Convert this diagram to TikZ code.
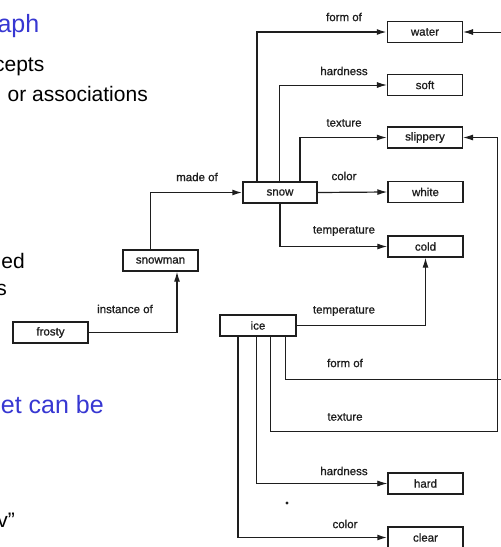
\documentclass[tikz,border=0pt]{standalone}
\usepackage{fontspec}
\setmainfont{Liberation Sans}
\newfontfamily\labfont[FakeBold=0.9]{Liberation Sans}
\usetikzlibrary{arrows.meta}
\definecolor{slideblue}{RGB}{55,55,210}
\definecolor{ink}{RGB}{30,30,30}
\tikzset{
  box/.style={draw=ink, line width=1.4pt, minimum width=75pt, minimum height=21pt, inner sep=0pt,
              font=\labfont\fontsize{11.5}{12}\selectfont, text=ink},
  lab/.style={font=\labfont\fontsize{11.5}{12}\selectfont, text=ink, inner sep=0pt},
  link/.style={draw=ink, line width=1.2pt, -{Latex[length=10pt,width=6pt]}},
  thinlink/.style={draw=ink, line width=0.8pt, -{Latex[length=10pt,width=6pt]}},
  heavylink/.style={draw=ink, line width=1.6pt, -{Latex[length=10pt,width=6pt]}},
  slide/.style={font=\fontsize{21}{24}\selectfont, inner sep=0pt, anchor=base east},
  slidetitle/.style={font=\fontsize{25}{28}\selectfont, text=slideblue, inner sep=0pt, anchor=base east}
}
\begin{document}
\begin{tikzpicture}[x=1pt,y=-1pt]
\useasboundingbox (0,0) rectangle (501,547);
\fill[white] (0,0) rectangle (501,547);
% slide text fragments
\node[slidetitle] (t1) at (39.5,32) {aph};
\node[slide] (t2) at (44.5,71) {cepts};
\node[slide] (t3) at (148,101) {or associations};
\node[slide] (t4) at (25,268) {ed};
\node[slide] (t5) at (7,295) {s};
\node[slidetitle] (t6) at (104,413) {et can be};
\node[slide] (t7) at (15,527) {v\symbol{34}};
% boxes
\node[box] (water) at (425,32) {water};
\node[box] (soft) at (425,85) {soft};
\node[box] (slippery) at (425,137.5) {slippery};
\node[box, minimum width=74pt] (snow) at (280,192.5) {snow};
\node[box] (white) at (425.5,192) {white};
\node[box] (cold) at (425.5,246.5) {cold};
\node[box] (snowman) at (160.5,260.5) {snowman};
\node[box] (frosty) at (50.5,332.5) {frosty};
\node[box, minimum width=76pt] (ice) at (258,325.5) {ice};
\node[box] (hard) at (425.5,483.5) {hard};
\node[box] (clear) at (425.5,537.5) {clear};
% corner coordinates on the right
\coordinate (fcorner) at (503,379);
\coordinate (tcorner) at (497,431);
% connectors from snow
\draw[heavylink] ([xshift=-23pt]snow.north) |- (water.west);
\draw[thinlink] ([xshift=-1pt]snow.north) |- (soft.west);
\draw[link] ([xshift=20pt]snow.north) |- (slippery.west);
\draw[link] (snow.east) -- (white.west);
\draw[link] (snow.south) |- (cold.west);
\draw[heavylink] ([xshift=-10pt]snowman.north) |- (snow.west);
\draw[link] (frosty.east) -| ([xshift=16.5pt]snowman.south);
% connectors from ice
\draw[link] (ice.east) -| (cold.south);
\draw[thinlink] ([xshift=27pt]ice.south) |- (fcorner) |- (water.east);
\draw[thinlink] ([xshift=12pt]ice.south) |- (tcorner) |- (slippery.east);
\draw[thinlink] ([xshift=-2pt]ice.south) |- (hard.west);
\draw[heavylink] ([xshift=-20pt]ice.south) |- (clear.west);
% labels
\node[lab] (l1) at (344,17) {form of};
\node[lab] (l2) at (344,71) {hardness};
\node[lab] (l3) at (344,123) {texture};
\node[lab] (l4) at (344,176) {color};
\node[lab] (l5) at (344,231) {temperature};
\node[lab] (l6) at (197,177) {made of};
\node[lab] (l7) at (125,309) {instance of};
\node[lab] (l8) at (344,311) {temperature};
\node[lab] (l9) at (345,363) {form of};
\node[lab] (l10) at (345,417) {texture};
\node[lab] (l11) at (344,471) {hardness};
\node[lab] (l12) at (345,524) {color};
% speck
\fill[ink] (287,503) circle (1.6pt);
\end{tikzpicture}
\end{document}
